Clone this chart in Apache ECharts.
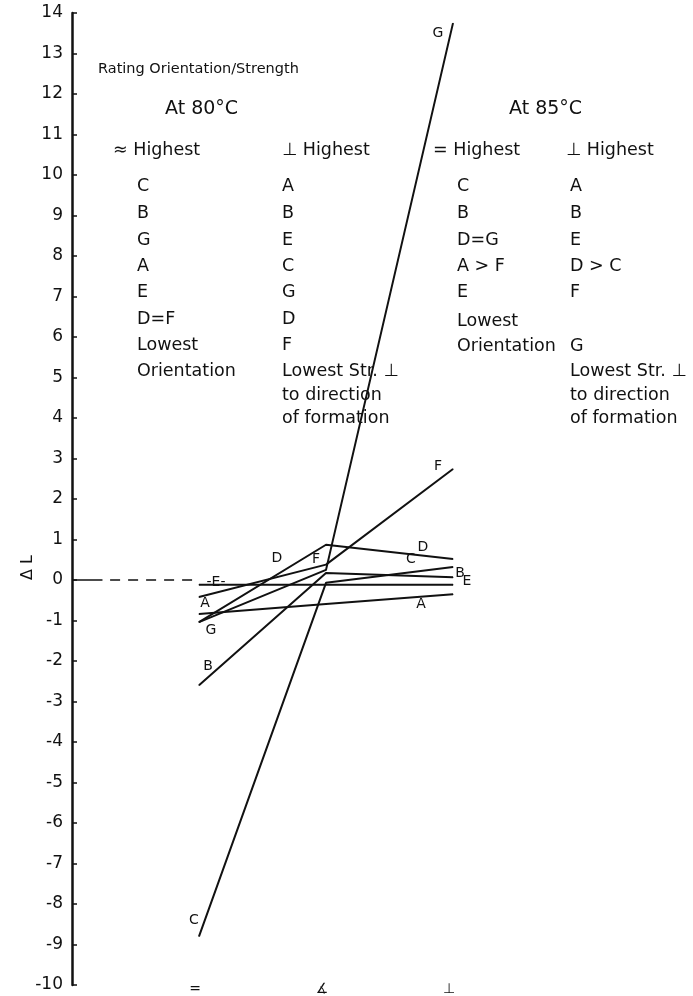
<!DOCTYPE html>
<html>
<head>
<meta charset="utf-8">
<script src="https://cdn.jsdelivr.net/npm/echarts@6/dist/echarts.min.js"></script>
<style>
  html, body { margin: 0; padding: 0; background: #fff; }
  #chart { width: 693px; height: 996px; }
</style>
</head>
<body>
<div id="chart"></div>
<script>
// Orientation positions along the x axis: parallel, angled, perpendicular
const orientations = ['=', '∡', '⊥'];

// Change in length (ΔL) for each sample at the three orientations
const sampleA = [-0.84, -0.59, -0.35];
const sampleB = [-2.6, 0.17, 0.07];
const sampleC = [-8.8, -0.07, 0.32];
const sampleD = [-1.04, 0.87, 0.52];
const sampleE = [-0.12, -0.12, -0.12];
const sampleF = [-0.42, 0.38, 2.74];
const sampleG = [-1.04, 0.25, 13.75];

// Y axis range and step
const yMin = -10, yMax = 14, yStep = 1;

// Where each sample's letter sits (index of point, pixel offset, text)
const letterTags = {
  A: [[0, [6, -11], 'A'], [2, [-32, 10], 'A']],
  B: [[0, [9, -19], 'B'], [2, [7, -4], 'B']],
  C: [[0, [-5, -16], 'C'], [2, [-42, -8], 'C']],
  D: [[1, [-49, 14], 'D'], [2, [-30, -12], 'D']],
  E: [[0, [17, -3], '-E-'], [2, [14, -4], 'E']],
  F: [[1, [-10, -5], 'F'], [2, [-15, -3], 'F']],
  G: [[0, [12, 8], 'G'], [2, [-15, 10], 'G']]
};

const samples = { A: sampleA, B: sampleB, C: sampleC, D: sampleD, E: sampleE, F: sampleF, G: sampleG };

const FONT = 'DejaVu Sans';

function buildSeries(name, values) {
  const tags = letterTags[name] || [];
  const data = values.map(function (v, i) {
    const item = { value: [i, v] };
    const tag = tags.find(function (t) { return t[0] === i; });
    if (tag) {
      item.label = {
        show: true,
        position: 'inside',
        offset: tag[1],
        formatter: tag[2],
        fontFamily: FONT,
        fontSize: 14,
        color: '#111'
      };
    }
    return item;
  });
  return {
    name: name,
    type: 'line',
    data: data,
    symbol: 'circle',
    symbolSize: 1,
    showSymbol: true,
    itemStyle: { color: '#111' },
    lineStyle: { color: '#111', width: 2 },
    label: { show: false },
    emphasis: { disabled: true },
    z: 3
  };
}

const series = Object.keys(samples).map(function (k) { return buildSeries(k, samples[k]); });

// Zero reference leading from the axis to the parallel position
series.push({
  type: 'line',
  data: [[-1, 0], [-0.76, 0]],
  symbol: 'none',
  lineStyle: { color: '#111', width: 1.5 },
  silent: true
});
series.push({
  type: 'line',
  data: [[-0.7, 0], [0, 0]],
  symbol: 'none',
  lineStyle: { color: '#111', width: 1.5, type: [10, 8] },
  silent: true
});

// Annotation text block
function txt(x, y, s, size) {
  return {
    type: 'text', left: x, top: y,
    style: { text: s, fontFamily: FONT, fontSize: size || 17.5, fill: '#111' }
  };
}
const col1 = ['C', 'B', 'G', 'A', 'E', 'D=F', 'Lowest', 'Orientation'];
const col2 = ['A', 'B', 'E', 'C', 'G', 'D', 'F', 'Lowest Str. ⊥'];
const col3 = ['C', 'B', 'D=G', 'A > F', 'E'];
const col4 = ['A', 'B', 'E', 'D > C', 'F'];
const rowY = [186, 213, 240, 266, 292, 319, 345, 371];

const texts = [];
texts.push({ type: 'text', left: 98, top: 62, style: { text: 'Rating Orientation/Strength', fontFamily: FONT, fontSize: 14.5, fill: '#111' } });
texts.push(txt(165, 110 - 10, 'At 80°C', 19));
texts.push(txt(509, 110 - 10, 'At 85°C', 19));
texts.push(txt(113, 150 - 9, '≈ Highest'));
texts.push(txt(282, 150 - 9, '⊥ Highest'));
texts.push(txt(433, 150 - 9, '= Highest'));
texts.push(txt(566, 150 - 9, '⊥ Highest'));
col1.forEach(function (s, i) { texts.push(txt(137, rowY[i] - 9, s)); });
col2.forEach(function (s, i) { texts.push(txt(282, rowY[i] - 9, s)); });
texts.push(txt(282, 395 - 9, 'to direction'));
texts.push(txt(282, 418 - 9, 'of formation'));
col3.forEach(function (s, i) { texts.push(txt(457, rowY[i] - 9, s)); });
texts.push(txt(457, 321 - 9, 'Lowest'));
texts.push(txt(457, 346 - 9, 'Orientation'));
col4.forEach(function (s, i) { texts.push(txt(570, rowY[i] - 9, s)); });
texts.push(txt(570, 346 - 9, 'G'));
texts.push(txt(570, 371 - 9, 'Lowest Str. ⊥'));
texts.push(txt(570, 395 - 9, 'to direction'));
texts.push(txt(570, 418 - 9, 'of formation'));
// Axis title ΔL, reading upward
texts.push({
  type: 'text', left: 20, top: 555, rotation: Math.PI / 2,
  style: { text: 'Δ L', fontFamily: FONT, fontSize: 16, fill: '#111' }
});

const chart = echarts.init(document.getElementById('chart'));
chart.setOption({
  animation: false,
  backgroundColor: '#fff',
  grid: { left: 72, top: 13, bottom: 11, width: 508, containLabel: false },
  xAxis: {
    type: 'value',
    min: -1, max: 3, interval: 1,
    axisLine: { show: false, onZero: false },
    axisTick: { show: false },
    splitLine: { show: false },
    axisLabel: {
      margin: 4,
      verticalAlign: 'middle',
      padding: [0, 8, 0, 0],
      fontFamily: FONT, fontSize: 14, color: '#111',
      formatter: function (v) { return orientations[v] !== undefined ? orientations[v] : ''; }
    }
  },
  yAxis: {
    type: 'value',
    min: yMin, max: yMax, interval: yStep,
    axisLine: { show: true, onZero: false, lineStyle: { color: '#111', width: 2.5 } },
    axisTick: { show: true, inside: true, length: 5, lineStyle: { color: '#111', width: 1.5 } },
    splitLine: { show: false },
    axisLabel: { margin: 9, fontFamily: FONT, fontSize: 17, color: '#111' }
  },
  graphic: texts,
  series: series
});
</script>
</body>
</html>
